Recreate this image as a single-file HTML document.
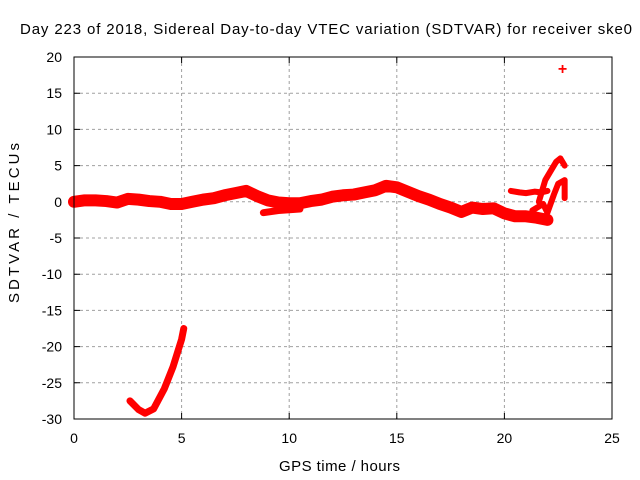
<!DOCTYPE html>
<html><head><meta charset="utf-8"><style>
body{margin:0;background:#fff}
svg{display:block;font-family:"Liberation Sans",sans-serif;font-size:14px}
</style></head><body>
<svg id="c" width="640" height="480">
<text x="20" y="34" textLength="612" lengthAdjust="spacing" font-size="15">Day 223 of 2018, Sidereal Day-to-day VTEC variation (SDTVAR) for receiver ske0</text>
<text x="279" y="471" textLength="121" lengthAdjust="spacing" font-size="15">GPS time / hours</text>
<text transform="translate(19,303) rotate(-90)" textLength="160" lengthAdjust="spacing" font-size="15">SDTVAR / TECUs</text>
<g id="grid"></g><g id="ticks"></g><g id="series"></g>
<rect x="74" y="57" width="538" height="362" fill="none" stroke="#000" stroke-width="1"/>
</svg>
<script>
const xTicks=[0,5,10,15,20,25];
const yTicks=[20,15,10,5,0,-5,-10,-15,-20,-25,-30];
const mainX=[0,0.5,1,1.5,2,2.5,3,3.5,4,4.5,5,5.5,6,6.5,7,7.5,8,8.5,9,9.5,10,10.5,11,11.5,12,12.5,13,13.5,14,14.5,15,15.5,16,16.5,17,17.5,18,18.5,19,19.5,20,20.5,21,21.5,22];
const mainY=[0,0.2,0.2,0.1,-0.1,0.4,0.3,0.1,0,-0.3,-0.3,0,0.3,0.5,0.9,1.2,1.5,0.8,0.2,-0.1,-0.2,-0.2,0.1,0.3,0.7,0.9,1.0,1.3,1.6,2.2,2.0,1.4,0.8,0.3,-0.3,-0.8,-1.4,-0.8,-1.0,-0.9,-1.6,-2.0,-2.0,-2.2,-2.5];
const branchX=[8.8,9.5,10.5];
const branchY=[-1.5,-1.2,-1.0];
const upperX=[20.3,20.7,21,21.4,21.7,22];
const upperY=[1.5,1.3,1.2,1.4,1.3,1.5];
const loopAX=[21.6,21.9,22.1,22.4,22.6,22.8];
const loopAY=[0,3,4,5.5,6,5];
const loopBX=[21.3,21.8,22.0,22.3,22.5,22.8,22.8];
const loopBY=[-1.2,-0.3,-1.5,1,2.5,3,0.5];
const lowX=[2.6,3.0,3.3,3.7,4.2,4.6,5.0,5.1];
const lowY=[-27.5,-28.7,-29.2,-28.6,-25.8,-22.8,-19,-17.5];
const outX=[22.7];
const outY=[18.5];
const X=v=>74+v*538/25, Y=v=>57+(20-v)*362/50;
const NS="http://www.w3.org/2000/svg";
function mk(t,a,p){const e=document.createElementNS(NS,t);for(const k in a)e.setAttribute(k,a[k]);p.appendChild(e);return e;}
const g=document.getElementById('grid'),tk=document.getElementById('ticks'),s=document.getElementById('series');
xTicks.forEach(v=>{
 if(v>0&&v<25){const l=mk('line',{x1:X(v),x2:X(v),y1:57,y2:419,stroke:'#a0a0a0','stroke-dasharray':'3,3'},g);
 
 }
 const m=mk('path',{d:`M${X(v)},419v-6M${X(v)},57v6`,stroke:'#000'},tk);
 
 
 const t=mk('text',{x:X(v),y:443,'text-anchor':'middle'},tk);t.textContent=v;
 
 
});
yTicks.forEach(v=>{
 if(v<20&&v>-30){const l=mk('line',{x1:74,x2:612,y1:Y(v),y2:Y(v),stroke:'#a0a0a0','stroke-dasharray':'3,3'},g);
 
 }
 const m=mk('path',{d:`M74,${Y(v)}h6M612,${Y(v)}h-6`,stroke:'#000'},tk);
 
 
 const t=mk('text',{x:62,y:Y(v)+5,'text-anchor':'end'},tk);t.textContent=v;
 
 
});
function line(xs,ys,w,name){
 const p=mk('polyline',{points:xs.map((x,i)=>X(x)+','+Y(ys[i])).join(' '),fill:'none',stroke:'#f00','stroke-width':w,'stroke-linejoin':'round','stroke-linecap':'round'},s);
 
 
}
line(mainX,mainY,12,'main-series');
line(branchX,branchY,7,'branch-series');
line(upperX,upperY,6,'upper-series');
line(loopAX,loopAY,6,'loop-a-series');
line(loopBX,loopBY,6,'loop-b-series');
line(lowX,lowY,7,'low-series');
outX.forEach((x,i)=>{
 const t=mk('text',{x:X(x),y:Y(outY[i])+6,'text-anchor':'middle',fill:'#f00','font-size':'16','font-weight':'bold'},s);t.textContent='+';
 
 
});
</script>
</body></html>
